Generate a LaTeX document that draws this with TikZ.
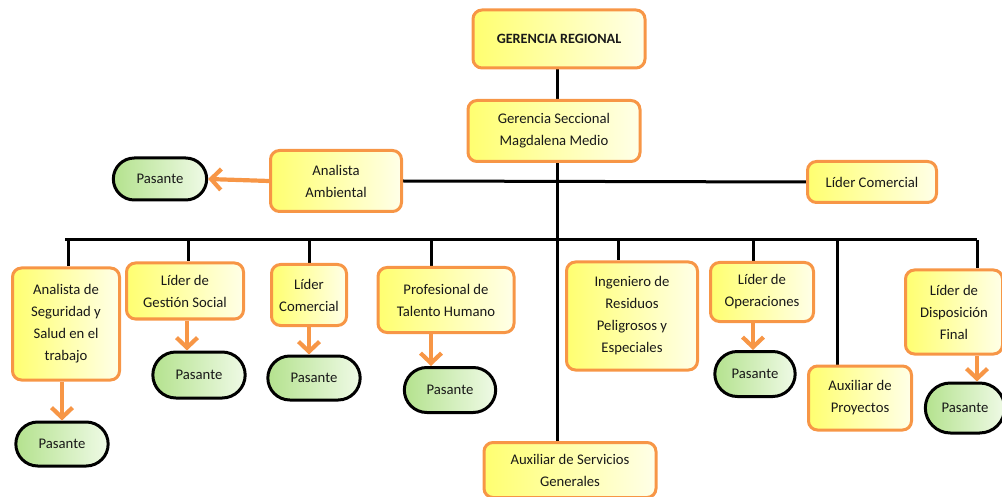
\documentclass[tikz,border=0pt]{standalone}
\usepackage{fontspec}
\setmainfont{Carlito}
\usetikzlibrary{shapes.misc,arrows.meta,backgrounds}
\definecolor{obord}{HTML}{F79646}
\definecolor{ytop}{HTML}{FFFF70}
\definecolor{ybot}{HTML}{FFFFE8}
\definecolor{gtop}{HTML}{B4E28E}
\definecolor{gbot}{HTML}{EFFAE6}
\tikzset{
  rolebox/.style={draw=obord, line width=3pt, rounded corners=9pt,
    left color=ytop, right color=ybot, align=center,
    inner sep=2pt, font=\fontsize{14.7}{22}\selectfont, text=black!90},
  pasbox/.style={rounded rectangle, draw=black, line width=3pt,
    left color=gtop, right color=gbot,
    font=\fontsize{14.7}{22}\selectfont, text=black!90},
  link/.style={draw=black, line width=3pt},
  harrow/.style={draw=obord, line width=4.2pt, -{Straight Barb[length=10pt,width=21pt]}}
}
\begin{document}
\begin{tikzpicture}[x=1pt,y=-1pt]
\useasboundingbox (0,0) rectangle (1002,497);
% top
\node[rolebox, minimum width=172pt, minimum height=58pt, font=\bfseries\fontsize{14.2}{22}\selectfont] (gr) at (559,39) {GERENCIA REGIONAL};
\node[rolebox, minimum width=172pt, minimum height=61pt] (gs) at (554,131) {Gerencia Seccional\\Magdalena Medio};
\node[rolebox, minimum width=131pt, minimum height=61pt] (aa) at (336,181) {Analista\\Ambiental};
\node[pasbox, minimum width=100pt, minimum height=42pt] (paa) at (160,179) {Pasante};
\node[rolebox, minimum width=129pt, minimum height=41pt] (lc1) at (872,182) {Líder Comercial};
% second row
\node[rolebox, minimum width=107pt, minimum height=112pt] (ass) at (66,324) {Analista de\\Seguridad y\\Salud en el\\trabajo};
\node[pasbox, minimum width=99pt, minimum height=44pt] (pass) at (62,444) {Pasante};
\node[rolebox, minimum width=117pt, minimum height=56pt] (lgs) at (185,291) {Líder de\\Gestión Social};
\node[pasbox, minimum width=99pt, minimum height=46pt] (plgs) at (199,375) {Pasante};
\node[rolebox, minimum width=75pt, minimum height=61pt] (lc2) at (309,295) {Líder\\Comercial};
\node[pasbox, minimum width=99pt, minimum height=44pt] (plc2) at (314,378) {Pasante};
\node[rolebox, minimum width=136pt, minimum height=65pt] (pth) at (446,300) {Profesional de\\Talento Humano};
\node[pasbox, minimum width=98pt, minimum height=45pt] (ppth) at (450,390) {Pasante};
\node[rolebox, minimum width=172pt, minimum height=55pt] (asg) at (570,470) {Auxiliar de Servicios\\Generales};
\node[rolebox, minimum width=131pt, minimum height=108pt] (irp) at (632,316) {Ingeniero de\\Residuos\\Peligrosos y\\Especiales};
\node[rolebox, minimum width=103pt, minimum height=59pt] (lo) at (762,292) {Líder de\\Operaciones};
\node[pasbox, minimum width=87pt, minimum height=45pt] (plo) at (755,374) {Pasante};
\node[rolebox, minimum width=103pt, minimum height=64pt] (ap) at (860,398) {Auxiliar de\\Proyectos};
\node[rolebox, minimum width=97pt, minimum height=84pt] (ldf) at (954,312) {Líder de\\Disposición\\Final};
\node[pasbox, minimum width=86pt, minimum height=50pt] (pldf) at (965,408) {Pasante};
% connectors
\begin{pgfonlayer}{background}
\coordinate (bl) at (65,240);
\coordinate (br) at (977,240);
\coordinate (spine) at (557,240);
\draw[link] (gr.south -| spine) -- (gs.north -| spine);
\draw[link] (gs.south -| spine) -- (asg.north -| spine);
\draw[link] (aa.east) -- (lc1.west);
\draw[link] (bl) -- (br);
\coordinate (d1) at (68,240);
\coordinate (d2) at (188,240);
\coordinate (d3) at (309,240);
\coordinate (d4) at (431,240);
\coordinate (d5) at (618,240);
\coordinate (d6) at (753,240);
\coordinate (d7) at (837,240);
\draw[link] (d1) -- (d1 |- ass.north);
\draw[link] (d2) -- (d2 |- lgs.north);
\draw[link] (d3) -- (d3 |- lc2.north);
\draw[link] (d4) -- (d4 |- pth.north);
\draw[link] (d5) -- (d5 |- irp.north);
\draw[link] (d6) -- (d6 |- lo.north);
\draw[link] (d7) -- (d7 |- ap.north);
\draw[link] (br) -- (br |- ldf.north);
\end{pgfonlayer}
% orange arrows
\draw[harrow] (aa.west) -- (paa.east);
\draw[harrow] (pass.north |- ass.south) -- (pass.north);
\coordinate (a2) at (187,0);
\draw[harrow] (a2 |- lgs.south) -- (a2 |- plgs.north);
\draw[harrow] (d3 |- lc2.south) -- (d3 |- plc2.north);
\draw[harrow] (d4 |- pth.south) -- (d4 |- ppth.north);
\draw[harrow] (d6 |- lo.south) -- (d6 |- plo.north);
\draw[harrow] (br |- ldf.south) -- (br |- pldf.north);
\end{tikzpicture}
\end{document}
